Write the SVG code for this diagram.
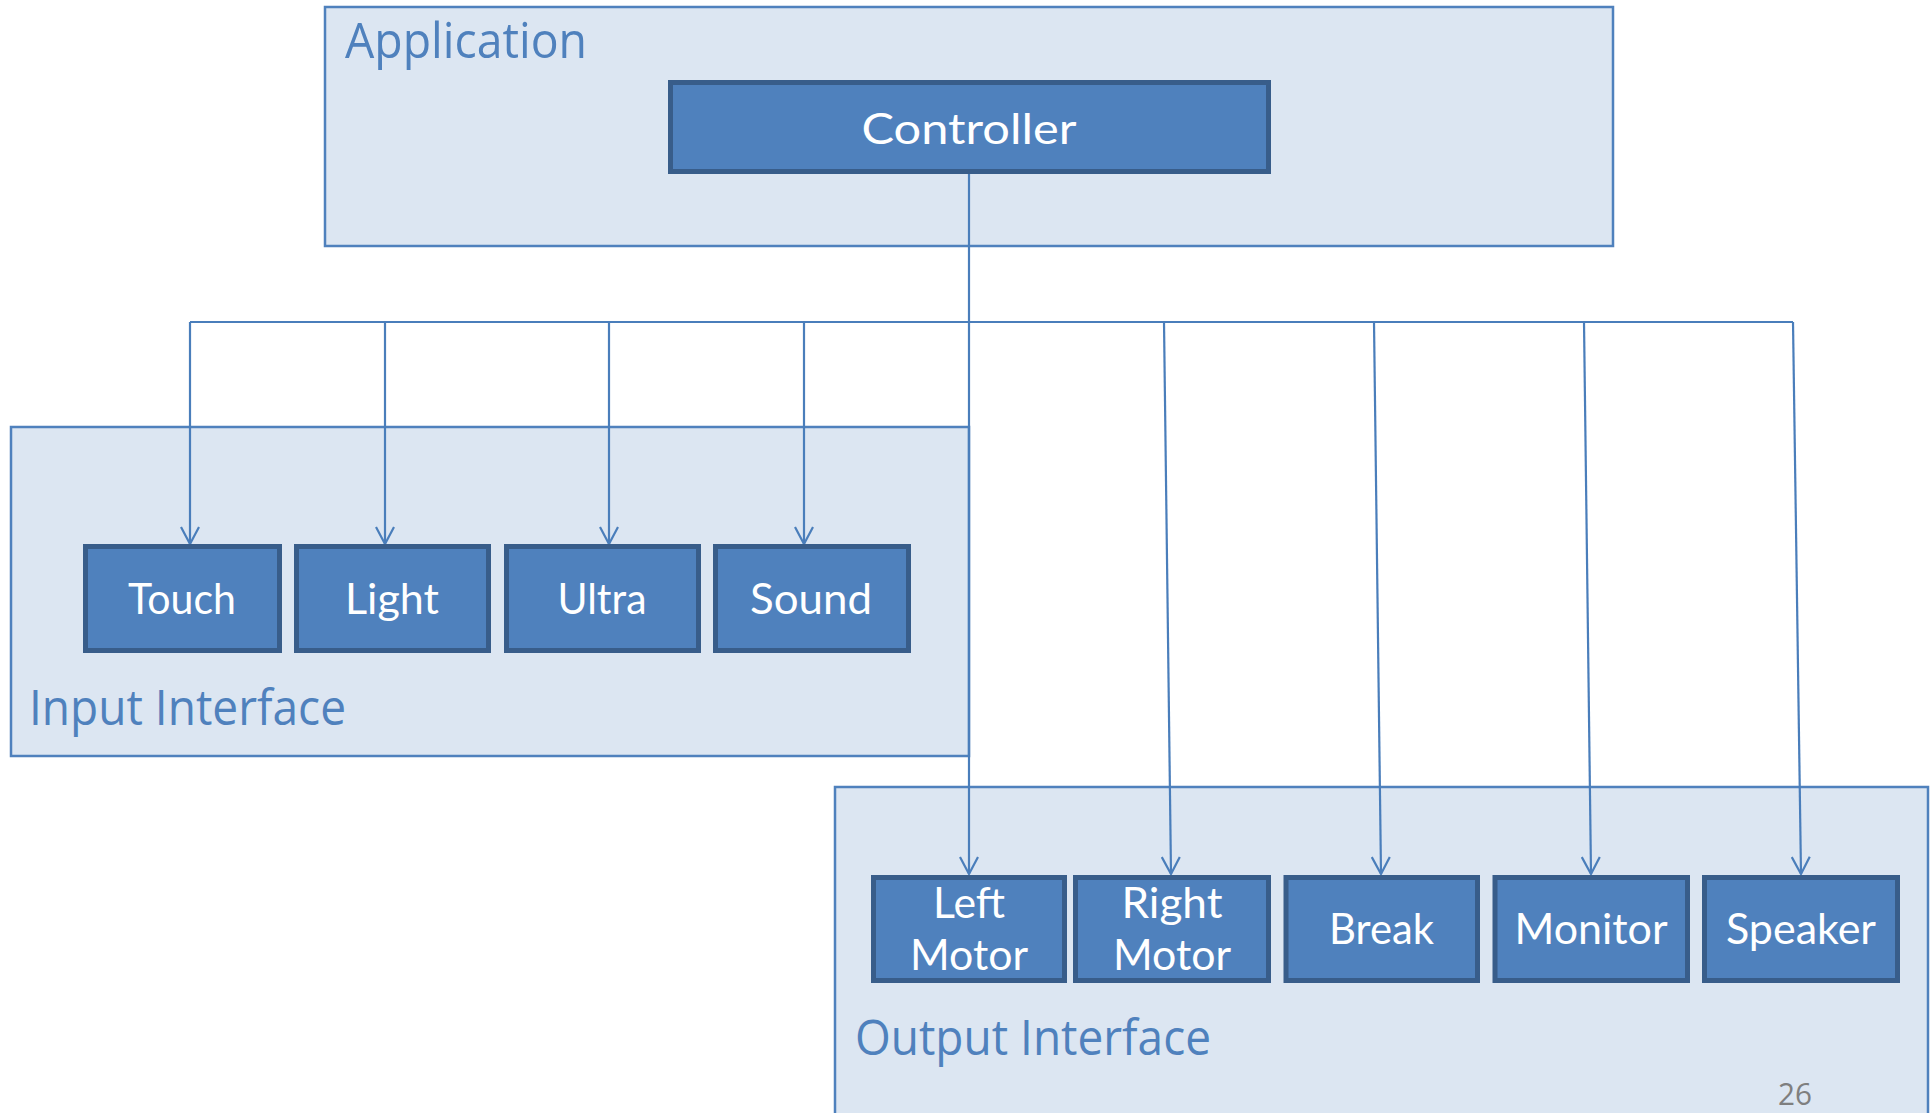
<svg xmlns="http://www.w3.org/2000/svg" width="1931" height="1113" viewBox="0 0 1931 1113">
<defs>
<style>
.cont{fill:#DCE6F2;stroke:#4F81BD;stroke-width:2.5}
.clabel{fill:#4F81BD;font-family:"Open Sans","Noto Sans",sans-serif;font-size:50px}
.node{fill:#4F81BD;stroke:#385D8A;stroke-width:5}
.ntext{fill:#FFFFFF;font-family:Lato,"Open Sans",sans-serif;font-size:43px;text-anchor:middle}
.conn{fill:none;stroke:#4A7EBB;stroke-width:2.2}
.page{fill:#7F7F7F;font-family:"Open Sans","Noto Sans",sans-serif;font-size:31px}
</style>
<marker id="arr" viewBox="0 0 20 20" refX="18" refY="10" markerWidth="20" markerHeight="20" markerUnits="userSpaceOnUse" orient="auto">
<path d="M1,1 L18,10 L1,19" fill="none" stroke="#4A7EBB" stroke-width="2.2"/>
</marker>
</defs>
<rect width="1931" height="1113" fill="#FFFFFF"/>

<g id="application">
<rect class="cont" x="325" y="7" width="1288" height="239"/>
<text class="clabel" x="345" y="58" textLength="242" lengthAdjust="spacingAndGlyphs">Application</text>
</g>
<g id="input-interface">
<rect class="cont" x="11" y="427" width="958" height="329"/>
<text class="clabel" x="29" y="725" textLength="317" lengthAdjust="spacingAndGlyphs">Input Interface</text>
</g>
<g id="output-interface">
<rect class="cont" x="835" y="787" width="1093" height="340"/>
<text class="clabel" x="855" y="1055" textLength="356" lengthAdjust="spacingAndGlyphs">Output Interface</text>
</g>

<g id="connectors">
<path class="conn" d="M969,173 L969,322"/>
<path class="conn" d="M190,322 L1793,322"/>
<path class="conn" marker-end="url(#arr)" d="M190,322 L190,544"/>
<path class="conn" marker-end="url(#arr)" d="M385,322 L385,544"/>
<path class="conn" marker-end="url(#arr)" d="M609,322 L609,544"/>
<path class="conn" marker-end="url(#arr)" d="M804,322 L804,544"/>
<path class="conn" marker-end="url(#arr)" d="M969,322 L969,874"/>
<path class="conn" marker-end="url(#arr)" d="M1164,322 L1171,874"/>
<path class="conn" marker-end="url(#arr)" d="M1374,322 L1381,874"/>
<path class="conn" marker-end="url(#arr)" d="M1584,322 L1591,874"/>
<path class="conn" marker-end="url(#arr)" d="M1793,322 L1801,874"/>
</g>

<g id="controller">
<rect class="node" x="670.5" y="82.5" width="598" height="89"/>
<text class="ntext" x="969" y="144" font-size="47" textLength="215" lengthAdjust="spacingAndGlyphs">Controller</text>
</g>

<g id="touch">
<rect class="node" x="85.5" y="546.5" width="194" height="104"/>
<text class="ntext" x="182" y="614" textLength="108" lengthAdjust="spacingAndGlyphs">Touch</text>
</g>
<g id="light">
<rect class="node" x="296.5" y="546.5" width="192" height="104"/>
<text class="ntext" x="392" y="614" textLength="94" lengthAdjust="spacingAndGlyphs">Light</text>
</g>
<g id="ultra">
<rect class="node" x="506.5" y="546.5" width="192" height="104"/>
<text class="ntext" x="602" y="614" textLength="89" lengthAdjust="spacingAndGlyphs">Ultra</text>
</g>
<g id="sound">
<rect class="node" x="715.5" y="546.5" width="193" height="104"/>
<text class="ntext" x="811" y="614" textLength="122" lengthAdjust="spacingAndGlyphs">Sound</text>
</g>

<g id="left-motor">
<rect class="node" x="873.5" y="877.5" width="191" height="103"/>
<text class="ntext" x="969" y="918" textLength="72" lengthAdjust="spacingAndGlyphs">Left</text>
<text class="ntext" x="969" y="970" textLength="118" lengthAdjust="spacingAndGlyphs">Motor</text>
</g>
<g id="right-motor">
<rect class="node" x="1075.5" y="877.5" width="193" height="103"/>
<text class="ntext" x="1172" y="918" textLength="101" lengthAdjust="spacingAndGlyphs">Right</text>
<text class="ntext" x="1172" y="970" textLength="118" lengthAdjust="spacingAndGlyphs">Motor</text>
</g>
<g id="break">
<rect class="node" x="1286" y="877.5" width="191.5" height="103"/>
<text class="ntext" x="1381.5" y="944" textLength="105" lengthAdjust="spacingAndGlyphs">Break</text>
</g>
<g id="monitor">
<rect class="node" x="1495" y="877.5" width="192.5" height="103"/>
<text class="ntext" x="1591" y="944" textLength="153" lengthAdjust="spacingAndGlyphs">Monitor</text>
</g>
<g id="speaker">
<rect class="node" x="1704.5" y="877.5" width="193" height="103"/>
<text class="ntext" x="1801" y="944" textLength="150" lengthAdjust="spacingAndGlyphs">Speaker</text>
</g>

<text class="page" x="1778" y="1105" textLength="34" lengthAdjust="spacingAndGlyphs">26</text>
</svg>
